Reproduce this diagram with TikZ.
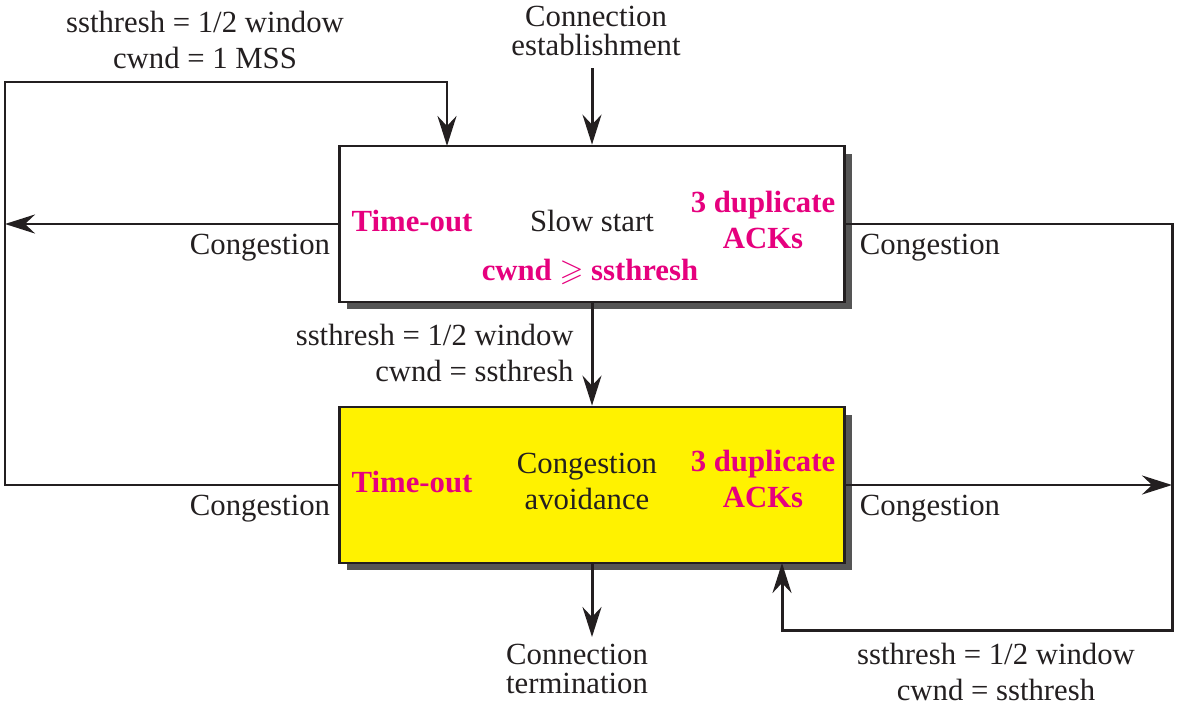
\documentclass[tikz,border=0pt]{standalone}
\usepackage{amssymb}
\usepackage{fontspec}
\setmainfont{Liberation Serif}
\usetikzlibrary{arrows.meta,shadows}
\definecolor{ink}{RGB}{35,31,32}
\definecolor{hot}{RGB}{230,0,126}
\definecolor{boxyellow}{RGB}{255,242,0}
\definecolor{shade}{RGB}{85,85,85}
\tikzset{
	state/.style={draw=ink,line width=1.6pt,minimum width=10.1cm,minimum height=3.12cm,
		drop shadow={shadow xshift=0.15cm,shadow yshift=-0.15cm,fill=shade,opacity=1}},
	txt/.style={inner sep=0pt,text=ink,font=\fontsize{17.5}{20.5}\selectfont,align=center},
	tight/.style={txt,font=\fontsize{17.5}{16.8}\selectfont},
	red/.style={txt,text=hot,font=\fontsize{17.5}{20.5}\selectfont\bfseries},
	flow/.style={draw=ink,line width=1.7pt,-{Stealth[length=0.6cm,width=0.38cm,inset=0.2cm]}},
	wire/.style={draw=ink,line width=1.7pt}
}
\begin{document}
\begin{tikzpicture}[x=0.02cm,y=-0.02cm]
	\useasboundingbox (0,0) rectangle (1183,710);
	\node[state,fill=white] (ss) at (592,224) {};
	\node[state,fill=boxyellow] (ca) at (592,485) {};
	\node[tight] (est) at (596,31) {Connection\\establishment};
	\node[tight] (term) at (577,669) {Connection\\termination};
	\node[txt] (tl) at (205,40) {ssthresh = 1/2 window\\cwnd = 1 MSS};
	\node[txt,anchor=east,align=right] (mid) at (574,353) {ssthresh = 1/2 window\\cwnd = ssthresh};
	\node[txt] (br) at (996,672) {ssthresh = 1/2 window\\cwnd = ssthresh};
	\node[txt] (c1) at (260,248) {Congestion};
	\node[txt] (c2) at (930,248) {Congestion};
	\node[txt] (c3) at (260,509) {Congestion};
	\node[txt] (c4) at (930,509) {Congestion};
	\node[red] (to1) at (412,221) {Time-out};
	\node[txt] (sl) at (592,221) {Slow start};
	\node[red] (d1) at (763,220) {3 duplicate\\ACKs};
	\node[red] (th) at (590,272) {cwnd $\geqslant$ ssthresh};
	\node[red] (to2) at (412,482) {Time-out};
	\node[txt] (av) at (587,481) {Congestion\\avoidance};
	\node[red] (d2) at (763,479) {3 duplicate\\ACKs};
	\coordinate (a) at (5,82);
	\coordinate (b) at (5,224);
	\coordinate (c) at (5,485);
	\coordinate (d) at (447,82);
	\coordinate (e) at (447,146);
	\coordinate (f) at (1172,224);
	\coordinate (g) at (1172,485);
	\coordinate (h) at (1172,630);
	\coordinate (i) at (782,630);
	\coordinate (j) at (782,563);
	\coordinate (k) at (592,68);
	\coordinate (l) at (592,637);
	\draw[flow] (k)--(ss.north);
	\draw[flow] (ss.south)--(ca.north);
	\draw[flow] (ca.south)--(l);
	\draw[flow] (ss.west)--(b);
	\draw[flow] (ca.west)--(c)--(a)--(d)--(e);
	\draw[flow] (ss.east)--(f)--(h)--(i)--(j);
	\draw[flow] (ca.east)--(g);
\end{tikzpicture}
\end{document}
